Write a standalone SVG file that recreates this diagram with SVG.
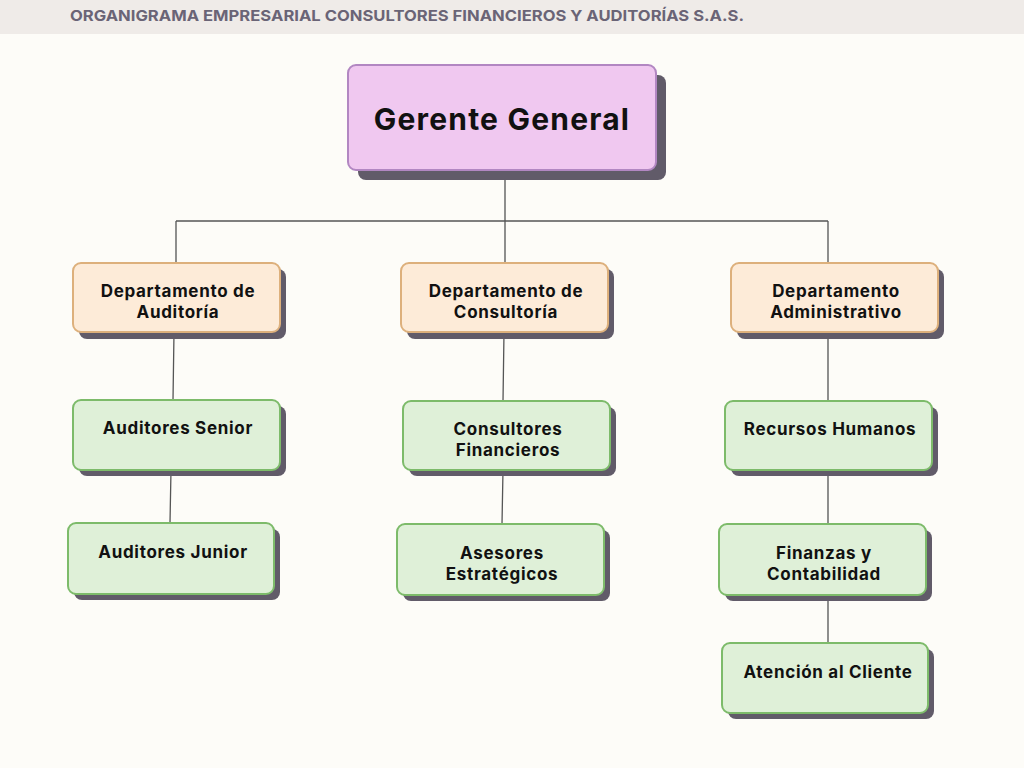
<svg xmlns="http://www.w3.org/2000/svg" width="1024" height="768" viewBox="0 0 1024 768">
<style>
.shadow{fill:#615b69}
.top{fill:#f0c8f0;stroke:#b287c2;stroke-width:2}
.dept{fill:#fdebd8;stroke:#ddb07c;stroke-width:2}
.leaf{fill:#dff0d8;stroke:#7dbb6a;stroke-width:2}
.lbl{font-family:Inter,"Liberation Sans",sans-serif;font-weight:700;font-size:17px;fill:#111;text-anchor:middle;letter-spacing:0.7px}
.conn{stroke:#555;stroke-width:1.3;fill:none}
</style>
<rect width="1024" height="768" fill="#fdfcf8"/>
<rect width="1024" height="34" fill="#efebe8"/>
<text x="70" y="21" font-family="Inter,'Liberation Sans',sans-serif" font-weight="700" font-size="15" fill="#6a6476" textLength="674" lengthAdjust="spacingAndGlyphs">ORGANIGRAMA EMPRESARIAL CONSULTORES FINANCIEROS Y AUDITORÍAS S.A.S.</text>
<g id="connectors">
<path class="conn" d="M505 170V221M176 221H828M176 221V263M505 221V263M828 221V263"/>
<path class="conn" d="M174 332L173 400M171 470L170 523"/>
<path class="conn" d="M504 332L503 401M503 470L502 524"/>
<path class="conn" d="M828 332V401M828 470V524M828 595V643"/>
</g>
<g id="gerente">
<rect class="shadow" x="358" y="75" width="308" height="105" rx="8"/>
<rect class="top" x="348" y="65" width="308" height="105" rx="8"/>
<text class="lbl" x="502" y="130" style="font-size:30px;letter-spacing:1.2px">Gerente General</text>
</g>
<g id="dep-auditoria">
<rect class="shadow" x="79" y="269" width="207" height="70" rx="8"/>
<rect class="dept" x="73" y="263" width="207" height="69" rx="8"/>
<text class="lbl" x="178" y="297">Departamento de</text>
<text class="lbl" x="178" y="318">Auditoría</text>
</g>
<g id="dep-consultoria">
<rect class="shadow" x="407" y="269" width="207" height="70" rx="8"/>
<rect class="dept" x="401" y="263" width="207" height="69" rx="8"/>
<text class="lbl" x="506" y="297">Departamento de</text>
<text class="lbl" x="506" y="318">Consultoría</text>
</g>
<g id="dep-administrativo">
<rect class="shadow" x="737" y="269" width="207" height="70" rx="8"/>
<rect class="dept" x="731" y="263" width="207" height="69" rx="8"/>
<text class="lbl" x="836" y="297">Departamento</text>
<text class="lbl" x="836" y="318">Administrativo</text>
</g>
<g id="auditores-senior">
<rect class="shadow" x="79" y="406" width="207" height="70" rx="8"/>
<rect class="leaf" x="73" y="400" width="207" height="70" rx="8"/>
<text class="lbl" x="178" y="434">Auditores Senior</text>
</g>
<g id="auditores-junior">
<rect class="shadow" x="74" y="529" width="206" height="71" rx="8"/>
<rect class="leaf" x="68" y="523" width="206" height="71" rx="8"/>
<text class="lbl" x="173" y="558">Auditores Junior</text>
</g>
<g id="consultores-financieros">
<rect class="shadow" x="409" y="407" width="207" height="69" rx="8"/>
<rect class="leaf" x="403" y="401" width="207" height="69" rx="8"/>
<text class="lbl" x="508" y="435">Consultores</text>
<text class="lbl" x="508" y="456">Financieros</text>
</g>
<g id="asesores-estrategicos">
<rect class="shadow" x="403" y="530" width="207" height="71" rx="8"/>
<rect class="leaf" x="397" y="524" width="207" height="71" rx="8"/>
<text class="lbl" x="502" y="559">Asesores</text>
<text class="lbl" x="502" y="580">Estratégicos</text>
</g>
<g id="recursos-humanos">
<rect class="shadow" x="731" y="407" width="207" height="69" rx="8"/>
<rect class="leaf" x="725" y="401" width="207" height="69" rx="8"/>
<text class="lbl" x="830" y="435">Recursos Humanos</text>
</g>
<g id="finanzas-contabilidad">
<rect class="shadow" x="725" y="530" width="207" height="71" rx="8"/>
<rect class="leaf" x="719" y="524" width="207" height="71" rx="8"/>
<text class="lbl" x="824" y="559">Finanzas y</text>
<text class="lbl" x="824" y="580">Contabilidad</text>
</g>
<g id="atencion-cliente">
<rect class="shadow" x="728" y="649" width="206" height="70" rx="8"/>
<rect class="leaf" x="722" y="643" width="206" height="70" rx="8"/>
<text class="lbl" x="828" y="678">Atención al Cliente</text>
</g>
</svg>
